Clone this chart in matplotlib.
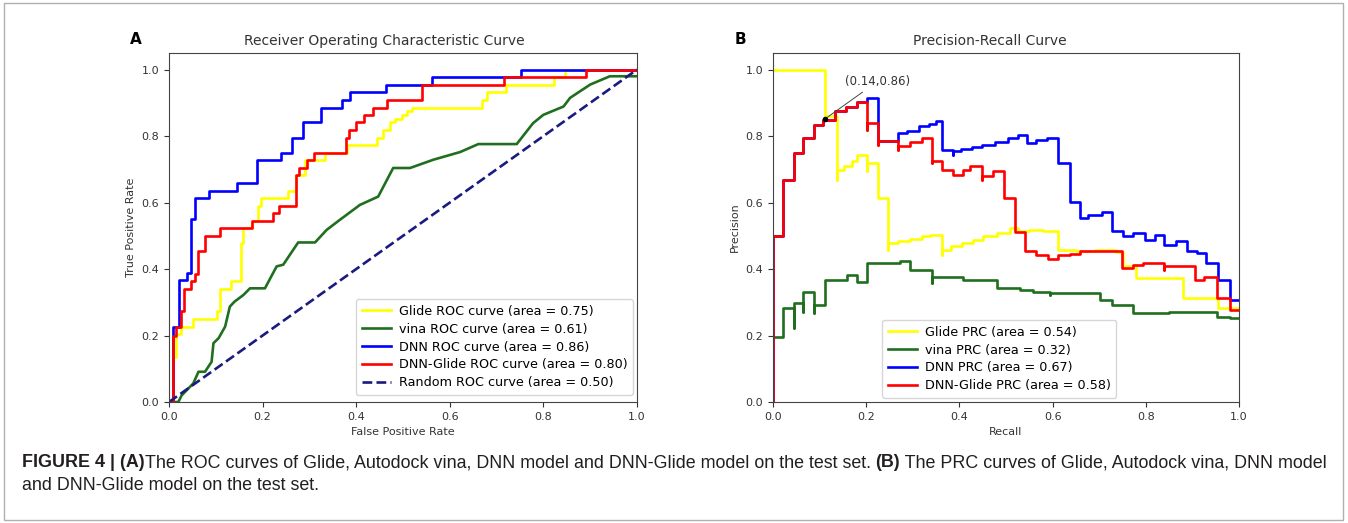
import matplotlib
matplotlib.use("Agg")
import matplotlib.pyplot as plt
from matplotlib.patches import Rectangle

# ---------------- data ----------------
# ROC curves (corner points, drawn as post-steps)
glide_fpr = [0.0, 0.009, 0.015, 0.025, 0.052, 0.102, 0.108, 0.132, 0.154, 0.158, 0.177, 0.19, 0.197,
             0.255, 0.272, 0.29, 0.333, 0.38, 0.444, 0.458, 0.472, 0.483, 0.497, 0.508, 0.519,
             0.668, 0.679, 0.721, 0.823, 0.846, 1.0]
glide_tpr = [0.0, 0.136, 0.205, 0.227, 0.25, 0.273, 0.341, 0.364, 0.477, 0.523, 0.545, 0.59, 0.614,
             0.636, 0.682, 0.727, 0.75, 0.773, 0.795, 0.818, 0.841, 0.852, 0.864, 0.875, 0.886,
             0.909, 0.932, 0.955, 0.977, 1.0, 1.0]

dnn_fpr = [0.0, 0.009, 0.022, 0.038, 0.048, 0.056, 0.086, 0.146, 0.187, 0.239, 0.262, 0.286, 0.324,
           0.369, 0.387, 0.464, 0.563, 0.753, 1.0]
dnn_tpr = [0.0, 0.227, 0.367, 0.388, 0.55, 0.614, 0.636, 0.659, 0.727, 0.75, 0.795, 0.841, 0.886,
           0.909, 0.932, 0.955, 0.977, 1.0, 1.0]

dnnglide_fpr = [0.0, 0.009, 0.016, 0.025, 0.031, 0.048, 0.056, 0.063, 0.077, 0.109, 0.177, 0.223,
                0.235, 0.271, 0.278, 0.295, 0.31, 0.378, 0.385, 0.40, 0.416, 0.436, 0.466, 0.54,
                0.716, 0.892, 1.0]
dnnglide_tpr = [0.0, 0.2, 0.227, 0.273, 0.341, 0.364, 0.386, 0.455, 0.5, 0.523, 0.545, 0.568,
                0.591, 0.682, 0.705, 0.727, 0.75, 0.795, 0.818, 0.841, 0.864, 0.886, 0.909, 0.955,
                0.977, 1.0, 1.0]

# vina ROC (polyline)
vina_fpr = [0.0, 0.02, 0.027, 0.052, 0.063, 0.077, 0.091, 0.095, 0.106, 0.12, 0.13, 0.14, 0.159,
            0.173, 0.205, 0.23, 0.244, 0.276, 0.312, 0.337, 0.365, 0.408, 0.447, 0.479, 0.515,
            0.565, 0.622, 0.661, 0.743, 0.778, 0.8, 0.843, 0.857, 0.9, 0.942, 1.0]
vina_tpr = [0.0, 0.0, 0.02, 0.056, 0.091, 0.091, 0.121, 0.177, 0.192, 0.227, 0.287, 0.302, 0.322,
            0.342, 0.342, 0.408, 0.413, 0.48, 0.48, 0.518, 0.548, 0.593, 0.618, 0.704, 0.704,
            0.729, 0.752, 0.776, 0.776, 0.839, 0.864, 0.889, 0.915, 0.955, 0.98, 0.98]

random_fpr = [0.0, 1.0]
random_tpr = [0.0, 1.0]

roc_labels = ["Glide ROC curve (area = 0.75)", "vina ROC curve (area = 0.61)",
              "DNN ROC curve (area = 0.86)", "DNN-Glide ROC curve (area = 0.80)",
              "Random ROC curve (area = 0.50)"]

# PR curves (drawn as post-steps)
glide_rec = [0.0, 0.112, 0.137, 0.137, 0.152, 0.169, 0.181, 0.201, 0.201, 0.226, 0.247, 0.247,
             0.269, 0.294, 0.319, 0.337, 0.362, 0.362, 0.383, 0.405, 0.43, 0.451, 0.48, 0.509,
             0.526, 0.55, 0.58, 0.612, 0.65, 0.69, 0.737, 0.752, 0.779, 0.88, 0.956, 1.0]
glide_prec = [1.0, 0.859, 0.669, 0.699, 0.709, 0.724, 0.744, 0.694, 0.719, 0.613, 0.458, 0.478,
              0.483, 0.49, 0.498, 0.503, 0.443, 0.458, 0.468, 0.478, 0.488, 0.498, 0.508, 0.522,
              0.513, 0.518, 0.515, 0.458, 0.455, 0.458, 0.45, 0.408, 0.373, 0.312, 0.282, 0.282]

vina_rec = [0.0, 0.021, 0.044, 0.044, 0.065, 0.065, 0.087, 0.087, 0.112, 0.158, 0.18, 0.201,
            0.273, 0.294, 0.341, 0.341, 0.408, 0.48, 0.53, 0.558, 0.594, 0.594, 0.702, 0.727,
            0.773, 0.85, 0.952, 0.981, 1.0]
vina_prec = [0.197, 0.282, 0.222, 0.299, 0.272, 0.332, 0.267, 0.292, 0.367, 0.383, 0.362, 0.418,
             0.423, 0.398, 0.357, 0.377, 0.367, 0.342, 0.337, 0.332, 0.322, 0.329, 0.307, 0.292,
             0.267, 0.27, 0.257, 0.252, 0.252]

dnn_rec = [0.0, 0.0, 0.022, 0.044, 0.065, 0.087, 0.108, 0.133, 0.157, 0.181, 0.202, 0.226, 0.269,
           0.288, 0.313, 0.334, 0.35, 0.362, 0.386, 0.386, 0.403, 0.428, 0.449, 0.477, 0.505,
           0.526, 0.544, 0.565, 0.587, 0.612, 0.637, 0.659, 0.677, 0.705, 0.727, 0.752, 0.773,
           0.798, 0.819, 0.84, 0.865, 0.888, 0.909, 0.93, 0.956, 0.981, 1.0]
dnn_prec = [0.0, 0.5, 0.669, 0.749, 0.794, 0.834, 0.849, 0.874, 0.889, 0.904, 0.915, 0.786, 0.809,
            0.816, 0.829, 0.836, 0.844, 0.759, 0.744, 0.754, 0.761, 0.766, 0.774, 0.782, 0.794,
            0.802, 0.779, 0.787, 0.794, 0.719, 0.603, 0.553, 0.563, 0.573, 0.513, 0.498, 0.508,
            0.488, 0.503, 0.473, 0.483, 0.453, 0.448, 0.418, 0.367, 0.307, 0.307]

dnnglide_rec = [0.0, 0.0, 0.022, 0.044, 0.065, 0.087, 0.108, 0.133, 0.157, 0.181, 0.202, 0.202,
                0.226, 0.226, 0.269, 0.269, 0.294, 0.319, 0.341, 0.341, 0.362, 0.387, 0.408,
                0.423, 0.448, 0.448, 0.473, 0.496, 0.519, 0.541, 0.565, 0.591, 0.612, 0.637,
                0.659, 0.748, 0.773, 0.794, 0.838, 0.838, 0.906, 0.924, 0.952, 0.981, 1.0]
dnnglide_prec = [0.0, 0.5, 0.669, 0.749, 0.794, 0.834, 0.849, 0.874, 0.889, 0.904, 0.819, 0.839,
                 0.774, 0.786, 0.759, 0.769, 0.782, 0.794, 0.719, 0.726, 0.699, 0.684, 0.699,
                 0.709, 0.669, 0.679, 0.694, 0.615, 0.51, 0.453, 0.443, 0.43, 0.443, 0.446,
                 0.453, 0.403, 0.413, 0.418, 0.398, 0.408, 0.367, 0.377, 0.312, 0.277, 0.277]

pr_labels = ["Glide PRC (area = 0.54)", "vina PRC (area = 0.32)",
             "DNN PRC (area = 0.67)", "DNN-Glide PRC (area = 0.58)"]

annot_rec, annot_prec = 0.112, 0.852
annot_text = "(0.14,0.86)"

# ---------------- figure ----------------
W, H = 1348, 523
fig = plt.figure(figsize=(W / 100, H / 100), dpi=100)
fig.patch.set_facecolor("white")

def fx(px):
    return px / W

def fy(py):
    return 1 - py / H

ax1 = fig.add_axes([fx(169), fy(402), fx(637) - fx(169), fy(53) - fy(402)])
ax2 = fig.add_axes([fx(773), fy(402), fx(1239) - fx(773), fy(53) - fy(402)])

c_y, c_g, c_b, c_r = "#ffff00", "#1f6f1f", "#0000ff", "#ff0000"
lw = 1.9
tick_fs = 8
txtc = "#333333"
leg_kw = dict(fontsize=9.2, handlelength=2.3, handletextpad=0.6, labelspacing=0.38,
              borderpad=0.45, borderaxespad=0)

ax1.step(glide_fpr, glide_tpr, where="post", color=c_y, lw=lw, label=roc_labels[0])
ax1.plot(vina_fpr, vina_tpr, color=c_g, lw=lw, label=roc_labels[1])
ax1.step(dnn_fpr, dnn_tpr, where="post", color=c_b, lw=lw, label=roc_labels[2])
ax1.step(dnnglide_fpr, dnnglide_tpr, where="post", color=c_r, lw=lw, label=roc_labels[3])
ax1.plot(random_fpr, random_tpr, color="#1a1a80", lw=lw, ls="--", label=roc_labels[4])
ax1.set_xlim(0, 1)
ax1.set_ylim(0, 1.05)
ax1.set_xlabel("False Positive Rate", fontsize=tick_fs, color=txtc)
ax1.set_ylabel("True Positive Rate", fontsize=tick_fs, color=txtc)
ax1.set_title("Receiver Operating Characteristic Curve", fontsize=10, color=txtc, x=0.46)
ax1.legend(loc="lower right", bbox_to_anchor=((633 - 169) / 468, 7 / 349), **leg_kw)

ax2.step(glide_rec, glide_prec, where="post", color=c_y, lw=lw, label=pr_labels[0])
ax2.step(vina_rec, vina_prec, where="post", color=c_g, lw=lw, label=pr_labels[1])
ax2.step(dnn_rec, dnn_prec, where="post", color=c_b, lw=lw, label=pr_labels[2])
ax2.step(dnnglide_rec, dnnglide_prec, where="post", color=c_r, lw=lw, label=pr_labels[3])
ax2.set_xlim(0, 1)
ax2.set_ylim(0, 1.05)
ax2.set_xlabel("Recall", fontsize=tick_fs, color=txtc)
ax2.set_ylabel("Precision", fontsize=tick_fs, color=txtc)
ax2.set_title("Precision-Recall Curve", fontsize=10, color=txtc, x=0.465)
ax2.legend(loc="lower left", bbox_to_anchor=((882 - 773) / 466, 4 / 349), **leg_kw)
ax2.plot([annot_rec], [annot_prec], "o", color="black", ms=3, zorder=5)
ax2.annotate(annot_text, xy=(annot_rec, annot_prec), xytext=(0.155, 0.965),
             textcoords="data", fontsize=8.5, color=txtc, va="center", ha="left",
             arrowprops=dict(arrowstyle="-", color="#444444", lw=0.7))

for ax in (ax1, ax2):
    ax.tick_params(labelsize=tick_fs, colors=txtc, length=3.5)
    for s in ax.spines.values():
        s.set_color("#444444")

fig.text(fx(130), fy(40), "A", fontsize=11, fontweight="bold", ha="left", va="center")
fig.text(fx(735), fy(40), "B", fontsize=11, fontweight="bold", ha="left", va="center")

# border around the panel
fig.patches.append(Rectangle((fx(4), fy(520)), fx(1343) - fx(4), fy(3) - fy(520),
                             transform=fig.transFigure, fill=False, edgecolor="#b0b0b0", lw=1))

# caption
cap_font = "Liberation Sans"
cap_color = "#231f20"
line1 = [("FIGURE 4 | (A)", "bold"),
         ("The ROC curves of Glide, Autodock vina, DNN model and DNN-Glide model on the test set. ", "normal"),
         ("(B)", "bold"),
         (" The PRC curves of Glide, Autodock vina, DNN model", "normal")]
line2 = [("and DNN-Glide model on the test set.", "normal")]

renderer = fig.canvas.get_renderer()

def draw_line(segs, x0, ybase, fs):
    x = x0
    for s, w in segs:
        t = fig.text(fx(x), fy(ybase), s, fontsize=fs, fontweight=w, family=cap_font,
                     color=cap_color, ha="left", va="baseline")
        bb = t.get_window_extent(renderer=renderer)
        x += bb.width
    return x - x0

# fit font size to the measured line width
probe = fig.text(0, 0, "".join(s for s, _ in line1), fontsize=10, family=cap_font)
wprobe = probe.get_window_extent(renderer=renderer).width
probe.remove()
cap_fs = 10 * (1305 / wprobe)
draw_line(line1, 22, 467, cap_fs)
draw_line(line2, 22, 490, cap_fs)

fig.savefig("out.png", dpi=100, facecolor="white")
